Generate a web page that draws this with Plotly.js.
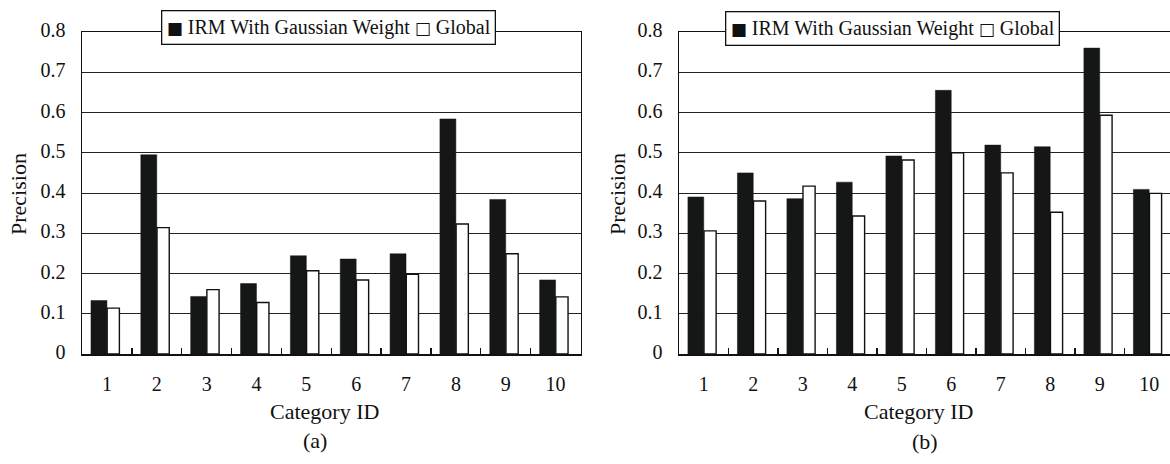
<!DOCTYPE html>
<html><head><meta charset="utf-8">
<script src="https://cdn.plot.ly/plotly-3.0.1.min.js"></script>
<style>html,body{margin:0;padding:0;background:#fff;overflow:hidden}</style>
</head><body><div id="chart" style="width:1170px;height:464px"></div>
<script>
// ---- data ----
const categories = ['1','2','3','4','5','6','7','8','9','10'];
const seriesNames = ['IRM With Gaussian Weight', 'Global'];
// panel (a)
const irmA    = [0.133, 0.495, 0.143, 0.175, 0.244, 0.236, 0.249, 0.584, 0.384, 0.184];
const globalA = [0.114, 0.314, 0.160, 0.128, 0.207, 0.184, 0.198, 0.323, 0.249, 0.142];
// panel (b)
const irmB    = [0.390, 0.450, 0.386, 0.427, 0.492, 0.655, 0.519, 0.515, 0.760, 0.409];
const globalB = [0.306, 0.380, 0.417, 0.343, 0.482, 0.500, 0.450, 0.352, 0.593, 0.399];
const yTickVals   = [0, 0.1, 0.2, 0.3, 0.4, 0.5, 0.6, 0.7, 0.8];
const yTickLabels = ['0','0.1','0.2','0.3','0.4','0.5','0.6','0.7','0.8'];
const panelLabels = ['(a)', '(b)'];
const xTitle = 'Category ID';
const yTitle = 'Precision';

// ---- styling ----
const W = 1170, H = 464;
const FONT = "'Liberation Serif', 'DejaVu Serif', serif";
const INK = '#111';
const DARK = '#151716';
const px = v => v / W;
const py = v => 1 - v / H;

function barPair(irm, glob, xa, ya) {
  return [
    { type: 'bar', name: seriesNames[0], x: categories, y: irm, xaxis: xa, yaxis: ya,
      width: 0.32, offset: -0.32, showlegend: false,
      marker: { color: DARK, line: { color: DARK, width: 0.5 } }, hoverinfo: 'x+y' },
    { type: 'bar', name: seriesNames[1], x: categories, y: glob, xaxis: xa, yaxis: ya,
      width: 0.245, offset: 0.005, showlegend: false,
      marker: { color: '#ffffff', line: { color: INK, width: 1.4 } }, hoverinfo: 'x+y' }
  ];
}

const data = [...barPair(irmA, globalA, 'x', 'y'), ...barPair(irmB, globalB, 'x2', 'y2')];

function xAxis(domain, range, anchor) {
  return {
    domain: domain, anchor: anchor, type: 'category', range: range,
    showline: true, linecolor: INK, linewidth: 1.5, mirror: true,
    ticks: 'inside', tickson: 'boundaries', ticklen: 6, tickwidth: 1.3, tickcolor: INK,
    showgrid: false, zeroline: false, fixedrange: true,
    tickfont: { family: FONT, size: 20, color: INK }, ticklabelstandoff: 11
  };
}
function yAxis(anchor, mirror) {
  return {
    domain: [py(354), py(32)], anchor: anchor, range: [0, 0.8],
    tickmode: 'array', tickvals: yTickVals, ticktext: yTickLabels,
    showline: true, linecolor: INK, linewidth: 1.5, mirror: mirror,
    showgrid: true, gridcolor: '#222222', gridwidth: 1,
    ticks: '', zeroline: false, fixedrange: true,
    tickfont: { family: FONT, size: 20, color: INK },
    ticklabelstandoff: 11, ticklabelshift: -2
  };
}

const sq = '<span style="font-family:DejaVu Sans;font-size:17px">';
const legendText = sq + '\u25A0</span> ' + seriesNames[0] + ' ' + sq + '\u25A1</span> ' + seriesNames[1];

function txt(text, x, y, size, extra) {
  return Object.assign({ text: text, xref: 'paper', yref: 'paper', x: px(x), y: py(y),
    xanchor: 'center', yanchor: 'middle', showarrow: false,
    font: { family: FONT, size: size, color: INK } }, extra || {});
}

const annotations = [
  txt(yTitle, 18, 194, 22, { textangle: -90 }),
  txt(yTitle, 617, 194, 22, { textangle: -90 }),
  txt(xTitle, 324, 411, 22),
  txt(xTitle, 918, 411, 22),
  txt(panelLabels[0], 315, 440, 22),
  txt(panelLabels[1], 925, 441, 22),
  txt(legendText, 328, 27, 20, { bgcolor: '#ffffff', bordercolor: INK, borderwidth: 1.3, borderpad: 4.5 }),
  txt(legendText, 892.5, 28.7, 20, { bgcolor: '#ffffff', bordercolor: INK, borderwidth: 1.3, borderpad: 4.5 })
];

const layout = {
  width: W, height: H,
  margin: { l: 0, r: 0, t: 0, b: 0, pad: 0 },
  paper_bgcolor: '#ffffff', plot_bgcolor: '#ffffff',
  barmode: 'group', showlegend: false,
  font: { family: FONT, size: 20, color: INK },
  xaxis: xAxis([px(82), px(580.5)], [-0.5, 9.5], 'y'),
  yaxis: yAxis('x', true),
  xaxis2: xAxis([px(679), 1], [-0.5, 9.42], 'y2'),
  yaxis2: yAxis('x2', false),
  annotations: annotations
};

Plotly.newPlot('chart', data, layout, { staticPlot: true, displayModeBar: false });
</script>
</body></html>
